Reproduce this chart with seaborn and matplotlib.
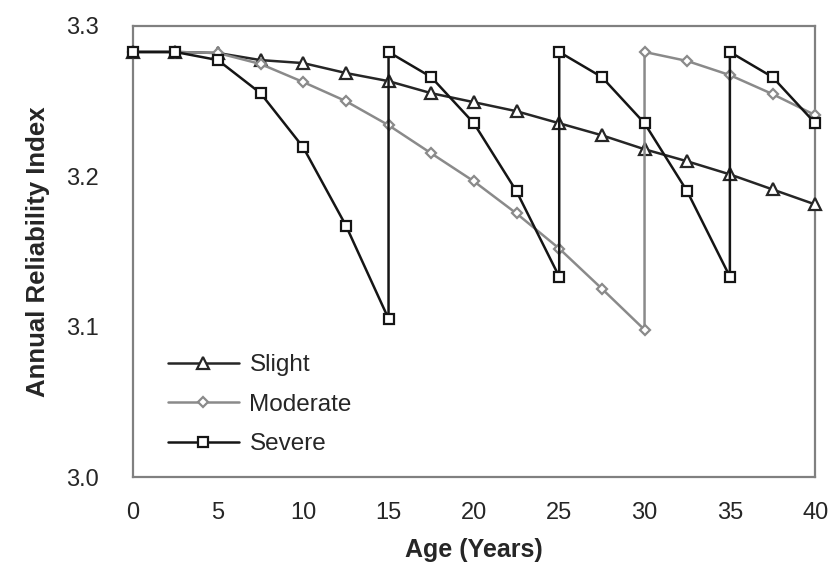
import pandas as pd
import seaborn as sns
import matplotlib.pyplot as plt

# Age points (years); repeated ages are the repair jumps
slight_age = [0, 2.5, 5, 7.5, 10, 12.5, 15, 17.5, 20, 22.5, 25, 27.5, 30, 32.5, 35, 37.5, 40]
slight_beta = [3.2827, 3.2827, 3.2820, 3.2773, 3.2753, 3.2687, 3.2633, 3.2553, 3.2493,
               3.2433, 3.2353, 3.2273, 3.2180, 3.2100, 3.2013, 3.1913, 3.1813]

moderate_age = [0, 2.5, 5, 7.5, 10, 12.5, 15, 17.5, 20, 22.5, 25, 27.5, 30, 30, 32.5, 35, 37.5, 40]
moderate_beta = [3.2827, 3.2827, 3.2820, 3.2747, 3.2627, 3.2500, 3.2340, 3.2153, 3.1967,
                 3.1753, 3.1520, 3.1253, 3.0980, 3.2827, 3.2767, 3.2673, 3.2547, 3.2407]

severe_age = [0, 2.5, 5, 7.5, 10, 12.5, 15, 15, 17.5, 20, 22.5, 25, 25, 27.5, 30, 32.5, 35, 35, 37.5, 40]
severe_beta = [3.2827, 3.2827, 3.2773, 3.2553, 3.2193, 3.1673, 3.1053, 3.2827, 3.2660,
               3.2353, 3.1900, 3.1333, 3.2827, 3.2660, 3.2353, 3.1900, 3.1333, 3.2827,
               3.2660, 3.2353]

sns.set_style("white")
plt.rcParams['font.family'] = ['Liberation Sans', 'DejaVu Sans']

fig = plt.figure(figsize=(8.31, 5.64), dpi=100)
ax = fig.add_axes([0.1595, 0.154, 0.8215, 0.8])

series = [
    ("Slight", slight_age, slight_beta, "#262626", "^", 8.5),
    ("Moderate", moderate_age, moderate_beta, "#8a8a8a", "D", 5.5),
    ("Severe", severe_age, severe_beta, "#151515", "s", 7.5),
]

for name, age, beta, color, marker, ms in series:
    df = pd.DataFrame({"Age": age, "Beta": beta})
    sns.lineplot(data=df, x="Age", y="Beta", sort=False, estimator=None, ax=ax,
                 color=color, lw=1.8, marker=marker, markersize=ms,
                 markerfacecolor="white", markeredgecolor=color, markeredgewidth=1.6,
                 label=name, clip_on=False, zorder=3)

ax.set_xlim(0, 40)
ax.set_ylim(3.0, 3.3)
ax.set_xticks(range(0, 41, 5))
ax.set_yticks([3.0, 3.1, 3.2, 3.3])
ax.set_yticklabels(["3.0", "3.1", "3.2", "3.3"])
ax.tick_params(axis="both", labelsize=17, direction="in", length=4, color="#808080")
ax.tick_params(axis="y", pad=24)
ax.tick_params(axis="x", pad=18)

for sp in ax.spines.values():
    sp.set_color("#808080")
    sp.set_linewidth(1.6)

ax.set_xlabel("Age (Years)", fontsize=18, fontweight="bold", labelpad=10)
ax.set_ylabel("Annual Reliability Index", fontsize=18.5, fontweight="bold", labelpad=12)

ax.legend(loc="lower left", bbox_to_anchor=(0.02, 0.0), frameon=False, fontsize=17.5,
          handlelength=2.9, labelspacing=0.72, handletextpad=0.45)

fig.savefig("out.png", dpi=100)
